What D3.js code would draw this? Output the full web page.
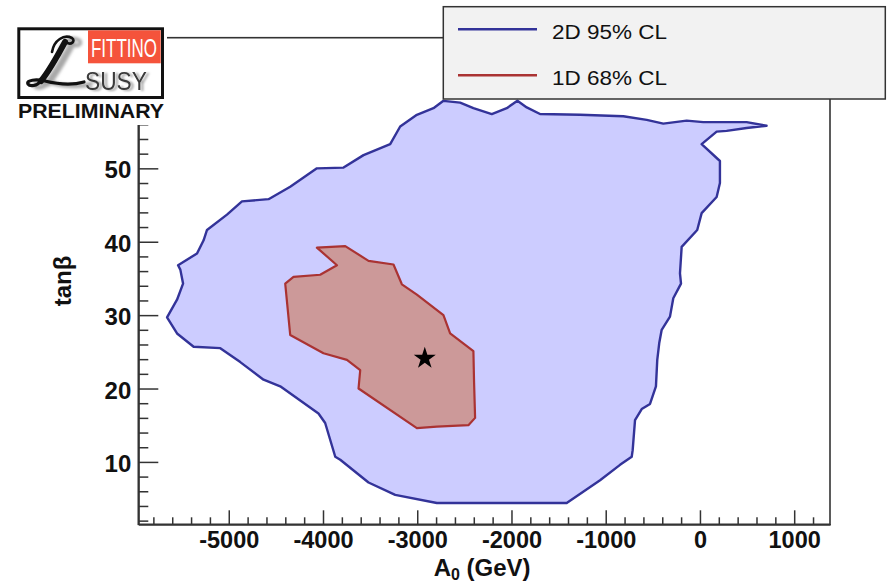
<!DOCTYPE html>
<html>
<head>
<meta charset="utf-8">
<script src="https://cdn.jsdelivr.net/npm/d3@7"></script>
<style>
  body { margin: 0; background: #fff; }
  svg { display: block; font-family: "Liberation Sans", Arial, Helvetica, sans-serif; }
</style>
</head>
<body>
<svg id="chart" width="891" height="583"></svg>
<script>
// Allowed regions in the (A0, tan beta) plane
const contour95 = [
  [-5655, 29.7], [-5549, 32.1], [-5485, 34.3], [-5514, 36.2], [-5538, 36.8],
  [-5337, 38.4], [-5267, 40.2], [-5231, 41.6], [-5019, 43.7], [-4860, 45.5],
  [-4578, 45.8], [-4348, 47.5], [-4065, 50.0], [-3782, 50.1], [-3570, 51.8],
  [-3287, 53.3], [-3181, 55.7], [-3004, 57.3], [-2828, 58.2], [-2722, 59.2],
  [-2545, 58.95], [-2404, 58.2], [-2209, 57.4], [-2050, 58.2], [-1937, 59.2],
  [-1838, 58.3], [-1697, 57.4], [-1272, 57.3], [-813, 57.1], [-565, 56.6],
  [-389, 56.1], [-141, 56.5], [35, 56.3], [495, 56.3], [707, 55.8],
  [495, 55.5], [283, 55.1], [177, 55.0], [18, 53.3], [212, 51.0],
  [212, 48.0], [177, 46.1], [18, 43.9], [-29, 41.6], [-194, 39.3],
  [-212, 35.7], [-201, 34.3], [-283, 32.3], [-318, 29.8], [-406, 28.0],
  [-432, 26.2], [-453, 23.9], [-467, 20.3], [-530, 17.9], [-618, 17.2],
  [-689, 15.7], [-714, 11.6], [-724, 10.7], [-848, 9.6], [-1060, 7.5],
  [-1414, 4.4], [-2792, 4.4], [-3234, 5.5], [-3517, 7.2], [-3817, 10.3],
  [-3870, 10.7], [-3977, 15.3], [-4048, 16.6], [-4454, 20.3], [-4631, 21.2],
  [-4878, 23.6], [-5090, 25.5], [-5373, 25.7], [-5549, 27.5]
];

const contour68 = [
  [-4065, 39.2], [-3764, 39.4], [-3517, 37.4], [-3252, 36.9], [-3163, 34.2],
  [-3004, 32.8], [-2722, 30.0], [-2651, 27.5], [-2404, 25.1], [-2397, 20.9],
  [-2386, 16.0], [-2457, 15.0], [-2792, 14.8], [-3004, 14.6], [-3623, 20.0],
  [-3605, 22.5], [-3746, 23.9], [-3995, 24.8], [-4348, 27.3], [-4401, 34.3],
  [-4313, 35.2], [-4030, 35.5], [-3852, 36.8]
];

const bestFit = [-2920, 24.1];

const xRange = [-5960, 1380];
const yRange = [1.5, 67.8];
const xMajorTicks = [-5000, -4000, -3000, -2000, -1000, 0, 1000];
const xTickLabels = ["-5000", "-4000", "-3000", "-2000", "-1000", "0", "1000"];
const yMajorTicks = [10, 20, 30, 40, 50];
const yTickLabels = ["10", "20", "30", "40", "50"];
const legendLabels = ["2D 95% CL", "1D 68% CL"];

const colors = {
  fill95: "#ccccff", line95: "#333399",
  fill68: "#cc9999", line68: "#aa3333",
  frame: "#333333"
};

const svg = d3.select("#chart");
const frameLeft = 138.3, frameRight = 830, frameTop = 37.7, frameBottom = 524.3;

const x = d3.scaleLinear().domain(xRange).range([frameLeft, frameRight]);
const y = d3.scaleLinear().domain(yRange).range([frameBottom, frameTop]);

const line = d3.line().x(d => x(d[0])).y(d => y(d[1])).curve(d3.curveLinearClosed);

// Filled regions
svg.append("path").datum(contour95)
  .attr("d", line).attr("fill", colors.fill95)
  .attr("stroke", colors.line95).attr("stroke-width", 2.4).attr("stroke-linejoin", "round");

svg.append("path").datum(contour68)
  .attr("d", line).attr("fill", colors.fill68)
  .attr("stroke", colors.line68).attr("stroke-width", 2.2).attr("stroke-linejoin", "round");

// Best fit point
svg.append("path")
  .attr("d", d3.symbol().type(d3.symbolStar).size(150)())
  .attr("transform", `translate(${x(bestFit[0])},${y(bestFit[1])})`)
  .attr("fill", "#000");

// Frame
svg.append("rect")
  .attr("x", frameLeft).attr("y", frameTop)
  .attr("width", frameRight - frameLeft).attr("height", frameBottom - frameTop)
  .attr("fill", "none").attr("stroke", colors.frame).attr("stroke-width", 1.6);

// Axes
const xMinor = d3.range(-5800, 1381, 200).filter(v => v % 1000 !== 0);
const yMinor = d3.range(2, 67, 2).filter(v => v % 10 !== 0);

const styleAxis = g => {
  g.select(".domain").attr("stroke", colors.frame).attr("stroke-width", 1.6);
  g.selectAll(".tick line").attr("stroke", colors.frame).attr("stroke-width", 1.5);
};

svg.append("g").attr("transform", `translate(0,${frameBottom})`)
  .call(d3.axisBottom(x).tickValues(xMinor).tickSize(-7).tickSizeOuter(0).tickFormat(""))
  .call(styleAxis);

svg.append("g").attr("transform", `translate(0,${frameBottom})`)
  .call(d3.axisBottom(x).tickValues(xMajorTicks).tickSize(-14).tickSizeOuter(0)
    .tickPadding(7).tickFormat((d, i) => xTickLabels[i]))
  .call(styleAxis)
  .call(g => g.selectAll("text").attr("font-size", 23.5).attr("font-weight", "bold")
    .attr("fill", "#111").attr("font-family", "'Liberation Sans', Arial, sans-serif"));

svg.append("g").attr("transform", `translate(${frameLeft},0)`)
  .call(d3.axisLeft(y).tickValues(yMinor).tickSize(-10).tickSizeOuter(0).tickFormat(""))
  .call(styleAxis);

svg.append("g").attr("transform", `translate(${frameLeft},0)`)
  .call(d3.axisLeft(y).tickValues(yMajorTicks).tickSize(-20).tickSizeOuter(0)
    .tickPadding(7).tickFormat((d, i) => yTickLabels[i]))
  .call(styleAxis)
  .call(g => g.selectAll("text").attr("font-size", 24).attr("font-weight", "bold")
    .attr("dy", "0.4em").attr("fill", "#111").attr("font-family", "'Liberation Sans', Arial, sans-serif"));

// Axis titles
const xt = svg.append("text")
  .attr("x", (frameLeft + frameRight) / 2 - 2).attr("y", 576)
  .attr("text-anchor", "middle").attr("font-size", 24).attr("font-weight", "bold").attr("fill", "#111");
xt.append("tspan").text("A");
xt.append("tspan").attr("font-size", 16).attr("dy", 4).text("0");
xt.append("tspan").attr("dy", -4).text(" (GeV)");

svg.append("text")
  .attr("transform", `translate(71,${(frameTop + frameBottom) / 2}) rotate(-90)`)
  .attr("text-anchor", "middle").attr("font-size", 24).attr("font-weight", "bold").attr("fill", "#111")
  .text("tanβ");

// Legend
const legend = svg.append("g");
legend.append("rect")
  .attr("x", 443.3).attr("y", 6.7).attr("width", 442).attr("height", 92.3)
  .attr("fill", "#f2f2f2").attr("stroke", colors.frame).attr("stroke-width", 1.5);
const legendColors = [colors.line95, colors.line68];
const legendRows = [29.3, 75.3];
legendLabels.forEach((lab, i) => {
  legend.append("line")
    .attr("x1", 458).attr("x2", 537).attr("y1", legendRows[i]).attr("y2", legendRows[i])
    .attr("stroke", legendColors[i]).attr("stroke-width", 2.4);
  legend.append("text")
    .attr("x", 552).attr("y", legendRows[i] + 9.5)
    .attr("font-size", 20.5).attr("fill", "#111")
    .attr("textLength", 115).attr("lengthAdjust", "spacingAndGlyphs")
    .text(lab);
});

// Logo
const defs = svg.append("defs");
defs.append("filter").attr("id", "soft").append("feGaussianBlur").attr("stdDeviation", 1.4);
defs.append("filter").attr("id", "textShadow")
  .attr("x", "-20%").attr("y", "-20%").attr("width", "140%").attr("height", "140%")
  .append("feDropShadow").attr("dx", 3).attr("dy", 1).attr("stdDeviation", 1.2)
  .attr("flood-color", "#9a9a9a").attr("flood-opacity", 0.9);

const logo = svg.append("g");
logo.append("rect").attr("x", 13).attr("y", 23).attr("width", 154).attr("height", 102).attr("fill", "#fff");
logo.append("rect").attr("x", 18.8).attr("y", 28.8).attr("width", 143.7).attr("height", 68.7)
  .attr("fill", "#fff").attr("stroke", "#111").attr("stroke-width", 3);
logo.append("rect").attr("x", 88).attr("y", 30.3).attr("width", 72.7).attr("height", 33)
  .attr("fill", "#f5533b");
logo.append("text").attr("x", 91).attr("y", 57)
  .attr("font-family", "'Liberation Sans Narrow', 'Liberation Sans', sans-serif")
  .attr("font-size", 26).attr("fill", "#fff")
  .attr("textLength", 66).attr("lengthAdjust", "spacingAndGlyphs").text("FITTINO");

// Script "L" emblem with a soft grey shadow
const scriptL = [
  { d: "M52,52 C54,40 64,34 72,38 C76,41 71,46 66,42", w: 2.6 },
  { d: "M65,42 C58,55 50,70 41,81", w: 6 },
  { d: "M41,81 C37,86 30,87 28,84 C26,80 36,79 45,81 C57,84 70,86 84,82", w: 3.2 }
];
const shadow = logo.append("g").attr("transform", "translate(7,2)").attr("filter", "url(#soft)");
scriptL.forEach(s => shadow.append("path").attr("d", s.d).attr("fill", "none")
  .attr("stroke", "#a8a8a8").attr("stroke-width", s.w + 1).attr("stroke-linecap", "round"));
scriptL.forEach(s => logo.append("path").attr("d", s.d).attr("fill", "none")
  .attr("stroke", "#111").attr("stroke-width", s.w).attr("stroke-linecap", "round"));
logo.append("text").attr("x", 85).attr("y", 90)
  .attr("font-family", "'Liberation Sans Narrow', 'Liberation Sans', sans-serif")
  .attr("font-size", 25).attr("fill", "#3a3a3a").attr("filter", "url(#textShadow)")
  .attr("textLength", 62).attr("lengthAdjust", "spacingAndGlyphs").text("SUSY");

logo.append("text").attr("x", 18).attr("y", 118)
  .attr("font-size", 21).attr("font-weight", "bold").attr("fill", "#111")
  .attr("textLength", 146).attr("lengthAdjust", "spacingAndGlyphs").text("PRELIMINARY");
</script>
</body>
</html>
